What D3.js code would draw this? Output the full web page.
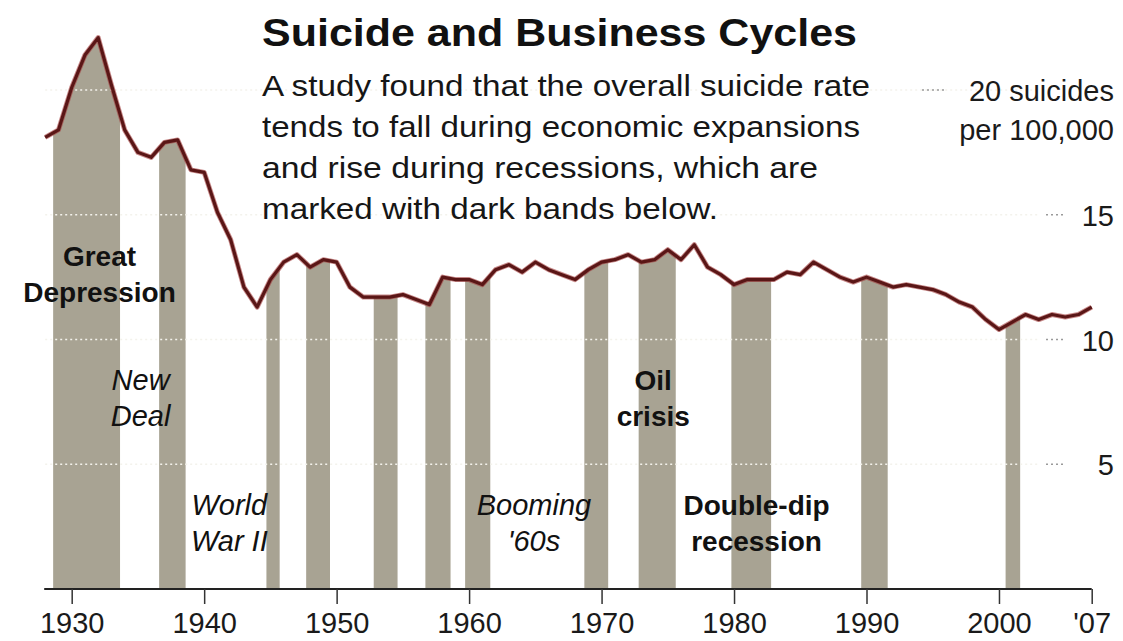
<!DOCTYPE html>
<html>
<head>
<meta charset="utf-8">
<script src="https://cdn.jsdelivr.net/npm/d3@7"></script>
<style>
  body { margin: 0; background: #fff; }
  svg { display: block; font-family: "Liberation Sans", Arial, sans-serif; }
</style>
</head>
<body>
<div id="chart"></div>
<script>
// suicide rate per 100,000, one value per year 1928-2007
const firstYear = 1928, lastYear = 2007;
const rates = [
  18.1, 18.4, 20.1, 21.4, 22.1, 20.2, 18.4, 17.5, 17.3, 17.9,
  18.0, 16.8, 16.7, 15.1, 14.0, 12.1, 11.3, 12.4, 13.1, 13.4,
  12.9, 13.2, 13.1, 12.1, 11.7, 11.7, 11.7, 11.8, 11.6, 11.4,
  12.5, 12.4, 12.4, 12.2, 12.8, 13.0, 12.7, 13.1, 12.8, 12.6,
  12.4, 12.8, 13.1, 13.2, 13.4, 13.1, 13.2, 13.6, 13.2, 13.8,
  12.9, 12.6, 12.2, 12.4, 12.4, 12.4, 12.7, 12.6, 13.1, 12.8,
  12.5, 12.3, 12.5, 12.3, 12.1, 12.2, 12.1, 12.0, 11.8, 11.5,
  11.3, 10.8, 10.4, 10.7, 11.0, 10.8, 11.0, 10.9, 11.0, 11.3
];
const years = d3.range(firstYear, lastYear + 1);

// recession bands (start, end)
const recessions = [
  [1928.6, 1933.65], [1936.6, 1938.6], [1944.7, 1945.7], [1947.7, 1949.5],
  [1952.8, 1954.6], [1956.7, 1958.6], [1959.7, 1961.6], [1968.7, 1970.5],
  [1972.8, 1975.6], [1979.8, 1982.8], [1989.6, 1991.6], [2000.5, 2001.6]
];

const xTicks = [1930, 1940, 1950, 1960, 1970, 1980, 1990, 2000, 2007];
const xTickLabels = ["1930", "1940", "1950", "1960", "1970", "1980", "1990", "2000", "'07"];
const yTicks = [5, 10, 15, 20];

const title = "Suicide and Business Cycles";
const subtitle = [
  "A study found that the overall suicide rate",
  "tends to fall during economic expansions",
  "and rise during recessions, which are",
  "marked with dark bands below."
];

// era labels: text lines, year at centre, value of first line, bold or italic
const eras = [
  { lines: ["Great", "Depression"], year: 1932.1, val: 13.0, bold: true },
  { lines: ["New", "Deal"], year: 1935.2, val: 8.0, bold: false },
  { lines: ["World", "War II"], year: 1941.9, val: 3.0, bold: false },
  { lines: ["Booming", "'60s"], year: 1964.9, val: 3.0, bold: false },
  { lines: ["Oil", "crisis"], year: 1973.9, val: 8.0, bold: true },
  { lines: ["Double-dip", "recession"], year: 1981.7, val: 3.0, bold: true }
];

const W = 1123, H = 641;
const svg = d3.select("#chart").append("svg")
  .attr("width", W).attr("height", H);

const x = d3.scaleLinear().domain([firstYear, lastYear]).range([45.2, 1091.7]);
const y = d3.scaleLinear().domain([0, 20]).range([589, 90]);

const data = years.map((yr, i) => ({ year: yr, rate: rates[i] }));

// clip path made of the recession bands
const clip = svg.append("defs").append("clipPath").attr("id", "bands");
clip.selectAll("rect")
  .data(recessions)
  .enter().append("rect")
  .attr("x", d => x(d[0]))
  .attr("width", d => x(d[1]) - x(d[0]))
  .attr("y", 0)
  .attr("height", y(0));

// gray area under the line, only inside recessions
const area = d3.area()
  .x(d => x(d.year))
  .y0(y(0))
  .y1(d => y(d.rate));

svg.append("path")
  .datum(data)
  .attr("d", area)
  .attr("fill", "#a8a393")
  .attr("clip-path", "url(#bands)");

// dotted gridlines, nearly white so they show mainly on the bands
svg.append("g")
  .selectAll("line")
  .data(yTicks)
  .enter().append("line")
  .attr("x1", x(firstYear)).attr("x2", 1040)
  .attr("y1", d => y(d)).attr("y2", d => y(d))
  .attr("stroke", "#f3f2ec")
  .attr("stroke-width", 1.5)
  .attr("stroke-dasharray", "2,3");

// short dotted leaders next to the value labels
svg.append("g")
  .selectAll("line")
  .data(yTicks)
  .enter().append("line")
  .attr("x1", d => d === 20 ? 922 : 1046)
  .attr("x2", d => d === 20 ? 944 : 1066)
  .attr("y1", d => y(d)).attr("y2", d => y(d))
  .attr("stroke", "#9a9a9a")
  .attr("stroke-width", 1.5)
  .attr("stroke-dasharray", "2,3");

// value labels on the right
const yLab = svg.append("g")
  .attr("font-size", 29)
  .attr("fill", "#1a1a1a")
  .attr("text-anchor", "end");
yLab.selectAll("text")
  .data(yTicks)
  .enter().append("text")
  .attr("x", 1114)
  .attr("y", d => y(d) + 11)
  .text(d => d === 20 ? "20 suicides" : d);
yLab.append("text")
  .attr("x", 1114)
  .attr("y", y(20) + 50)
  .text("per 100,000");

// the line
const line = d3.line()
  .x(d => x(d.year))
  .y(d => y(d.rate));

svg.append("path")
  .datum(data)
  .attr("d", line)
  .attr("fill", "none")
  .attr("stroke", "#a23a3a")
  .attr("stroke-width", 5)
  .attr("stroke-linejoin", "round")
  .attr("opacity", 0.6);
svg.append("path")
  .datum(data)
  .attr("d", line)
  .attr("fill", "none")
  .attr("stroke", "#5a1616")
  .attr("stroke-width", 3.2)
  .attr("stroke-linejoin", "round");

// x axis
const xAxis = d3.axisBottom(x)
  .tickValues(xTicks)
  .tickFormat((d, i) => xTickLabels[i])
  .tickSize(15)
  .tickSizeOuter(0)
  .tickPadding(8);

const gx = svg.append("g")
  .attr("transform", "translate(0," + y(0) + ")")
  .call(xAxis);
gx.select(".domain").attr("stroke", "#222").attr("stroke-width", 2)
  .attr("d", "M" + (x(firstYear) - 1) + ",0H" + x(lastYear));
gx.selectAll(".tick line").attr("stroke", "#333").attr("stroke-width", 1.5);
gx.selectAll(".tick text")
  .attr("font-family", "'Liberation Sans', Arial, sans-serif")
  .attr("font-size", 29)
  .attr("fill", "#1a1a1a")
  .attr("dy", "0.71em");

// era labels
const eraG = svg.append("g").attr("text-anchor", "middle").attr("fill", "#111");
eras.forEach(e => {
  e.lines.forEach((t, i) => {
    eraG.append("text")
      .attr("x", x(e.year))
      .attr("y", y(e.val) + 1 + i * 36)
      .attr("font-size", e.bold ? 28 : 29)
      .attr("font-weight", e.bold ? "bold" : "normal")
      .attr("font-style", e.bold ? "normal" : "italic")
      .text(t);
  });
});

// title and subtitle
svg.append("text")
  .attr("x", 262).attr("y", 46)
  .attr("font-size", 39)
  .attr("font-weight", "bold")
  .attr("fill", "#111")
  .attr("textLength", 595)
  .attr("lengthAdjust", "spacingAndGlyphs")
  .text(title);

const subWidths = [608, 598, 556, 456];
svg.append("g")
  .selectAll("text")
  .data(subtitle)
  .enter().append("text")
  .attr("x", 262)
  .attr("y", (d, i) => 96 + i * 41)
  .attr("font-size", 30)
  .attr("fill", "#161616")
  .attr("textLength", (d, i) => subWidths[i])
  .attr("lengthAdjust", "spacingAndGlyphs")
  .text(d => d);
</script>
</body>
</html>
